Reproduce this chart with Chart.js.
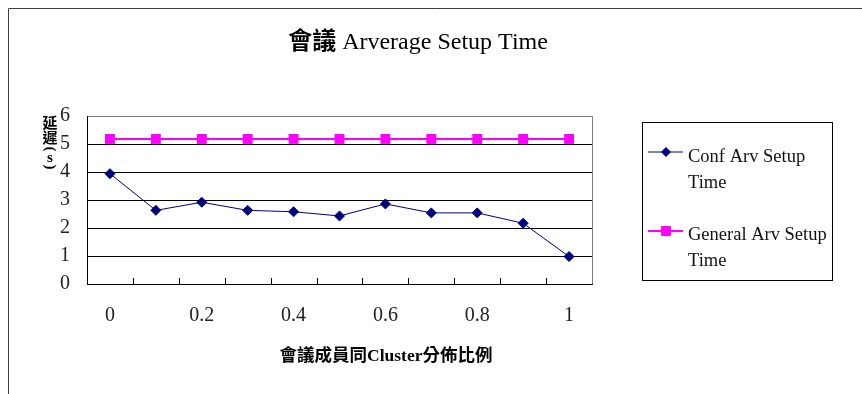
<!DOCTYPE html>
<html>
<head>
<meta charset="utf-8">
<script src="https://cdn.jsdelivr.net/npm/chart.js@4/dist/chart.umd.min.js"></script>
<style>
  html, body { margin: 0; padding: 0; background: #fff; }
  canvas { display: block; }
</style>
</head>
<body>
<canvas id="c" width="862" height="394"></canvas>
<script>
// Share of conference members in the same cluster
const categories = ['0', '0.1', '0.2', '0.3', '0.4', '0.5', '0.6', '0.7', '0.8', '0.9', '1'];
// Average setup time (seconds)
const confSetup = [3.94, 2.63, 2.92, 2.63, 2.58, 2.43, 2.86, 2.54, 2.54, 2.17, 0.98];
const generalSetup = [5.18, 5.18, 5.18, 5.18, 5.18, 5.18, 5.18, 5.18, 5.18, 5.18, 5.18];
const seriesNames = ['Conf Arv Setup Time', 'General Arv Setup Time'];
const yTicks = [0, 1, 2, 3, 4, 5, 6];

const chartTitle = ['會議', ' Arverage Setup Time'];
const xTitle = '會議成員同Cluster分佈比例';
const yTitleChars = ['延', '遲', '(', 's', ')'];

const SERIF = '"Liberation Serif", "Noto Sans CJK TC", serif';

const decor = {
  id: 'decor',
  beforeDraw(chart) {
    const ctx = chart.ctx;
    ctx.save();
    ctx.fillStyle = '#fff';
    ctx.fillRect(0, 0, chart.width, chart.height);
    // outer frame (top and left edges)
    ctx.strokeStyle = '#404040';
    ctx.lineWidth = 1;
    ctx.beginPath();
    ctx.moveTo(8.5, chart.height);
    ctx.lineTo(8.5, 8.5);
    ctx.lineTo(chart.width, 8.5);
    ctx.stroke();
    ctx.restore();
  },
  afterDraw(chart) {
    const ctx = chart.ctx;
    const a = chart.chartArea;
    const xs = chart.scales.x;
    ctx.save();

    // right edge of plot
    ctx.strokeStyle = '#808080';
    ctx.lineWidth = 1;
    ctx.beginPath();
    ctx.moveTo(Math.round(a.right) + 0.5, a.top);
    ctx.lineTo(Math.round(a.right) + 0.5, a.bottom);
    ctx.stroke();

    // inner tick marks between categories
    ctx.strokeStyle = '#000';
    ctx.beginPath();
    for (let i = 0; i < categories.length - 1; i++) {
      const x = Math.round((xs.getPixelForTick(i) + xs.getPixelForTick(i + 1)) / 2) + 0.5;
      ctx.moveTo(x, a.bottom);
      ctx.lineTo(x, a.bottom - 6);
    }
    ctx.stroke();

    // title
    ctx.fillStyle = '#000';
    ctx.textBaseline = 'alphabetic';
    const f1 = 'bold 24px ' + SERIF;
    const f2 = '24px ' + SERIF;
    ctx.font = f1;
    const w1 = ctx.measureText(chartTitle[0]).width;
    ctx.font = f2;
    const w2 = ctx.measureText(chartTitle[1]).width;
    const tx = 418 - (w1 + w2) / 2;
    ctx.font = f1;
    ctx.textAlign = 'left';
    ctx.fillText(chartTitle[0], tx, 49);
    ctx.font = f2;
    ctx.fillText(chartTitle[1], tx + w1, 49);

    // x axis title
    ctx.font = 'bold 17.5px ' + SERIF;
    ctx.textAlign = 'center';
    ctx.textBaseline = 'middle';
    ctx.fillText(xTitle, 386, 356);

    // y axis title, written vertically (brackets turned sideways)
    ctx.font = 'bold 15px ' + SERIF;
    const ys = [124, 139, 149, 158, 167];
    yTitleChars.forEach((ch, i) => {
      if (ch === '(' || ch === ')') {
        ctx.save();
        ctx.translate(50, ys[i]);
        ctx.rotate(Math.PI / 2);
        ctx.fillText(ch, 0, 0);
        ctx.restore();
      } else {
        ctx.fillText(ch, 50, ys[i]);
      }
    });
    ctx.restore();

    // legend
    ctx.save();
    const lx = 642.5, ly = 122.5, lw = 190, lh = 158;
    ctx.strokeStyle = '#000';
    ctx.lineWidth = 1;
    ctx.strokeRect(lx, ly, lw, lh);
    const rows = [[152, 157, 183], [231, 235, 261]];
    chart.data.datasets.forEach((ds, i) => {
      const [my, t1, t2] = rows[i];
      ctx.strokeStyle = ds.borderColor;
      ctx.lineWidth = ds.borderWidth;
      ctx.beginPath();
      ctx.moveTo(648, my);
      ctx.lineTo(683, my);
      ctx.stroke();
      ctx.fillStyle = ds.pointBackgroundColor;
      ctx.beginPath();
      if (ds.pointStyle === 'rect') {
        const s = ds.pointRadius * Math.SQRT1_2;
        ctx.fillRect(666 - s, my - s, 2 * s, 2 * s);
      } else {
        const r = ds.pointRadius;
        ctx.moveTo(666, my - r); ctx.lineTo(666 + r, my);
        ctx.lineTo(666, my + r); ctx.lineTo(666 - r, my);
        ctx.closePath(); ctx.fill();
      }
      ctx.fillStyle = '#111';
      ctx.font = '18.5px ' + SERIF;
      ctx.textAlign = 'left';
      ctx.textBaseline = 'middle';
      const words = ds.label.split(' ');
      const last = words.pop();
      ctx.fillText(words.join(' '), 688, t1);
      ctx.fillText(last, 688, t2);
    });
    ctx.restore();
  }
};

new Chart(document.getElementById('c'), {
  type: 'line',
  data: {
    labels: categories,
    datasets: [
      {
        label: seriesNames[0],
        data: confSetup,
        borderColor: '#000080',
        backgroundColor: '#000080',
        pointBackgroundColor: '#000080',
        pointBorderColor: '#000080',
        borderWidth: 1,
        pointStyle: 'rectRot',
        pointRadius: 5,
        pointBorderWidth: 1,
        tension: 0
      },
      {
        label: seriesNames[1],
        data: generalSetup,
        borderColor: '#FF00FF',
        backgroundColor: '#FF00FF',
        pointBackgroundColor: '#FF00FF',
        pointBorderColor: '#FF00FF',
        borderWidth: 2,
        pointStyle: 'rect',
        pointRadius: 7,
        pointBorderWidth: 0,
        tension: 0
      }
    ]
  },
  options: {
    responsive: false,
    animation: false,
    events: [],
    layout: { padding: { left: 0, right: 270, top: 116, bottom: 0 } },
    plugins: {
      legend: { display: false },
      title: { display: false },
      tooltip: { enabled: false }
    },
    scales: {
      x: {
        type: 'category',
        offset: true,
        afterFit(s) { s.height = 110; },
        grid: { display: false, drawTicks: false },
        border: { display: true, color: '#000', width: 1 },
        ticks: {
          autoSkip: false,
          maxRotation: 0,
          padding: 20,
          color: '#222',
          font: { family: SERIF, size: 20 },
          callback(v, i) { return i % 2 === 0 ? categories[i] : ''; }
        }
      },
      y: {
        min: 0,
        max: 6,
        afterFit(s) { s.width = 87; },
        afterBuildTicks(s) { s.ticks = yTicks.map(v => ({ value: v })); },
        grid: {
          drawTicks: false,
          color: ctx => (ctx.tick && ctx.tick.value === 6 ? '#808080' : '#000'),
          lineWidth: 1
        },
        border: { display: true, color: '#000', width: 1 },
        ticks: {
          padding: 17,
          color: '#222',
          font: { family: SERIF, size: 20 }
        }
      }
    }
  },
  plugins: [decor]
});
</script>
</body>
</html>
